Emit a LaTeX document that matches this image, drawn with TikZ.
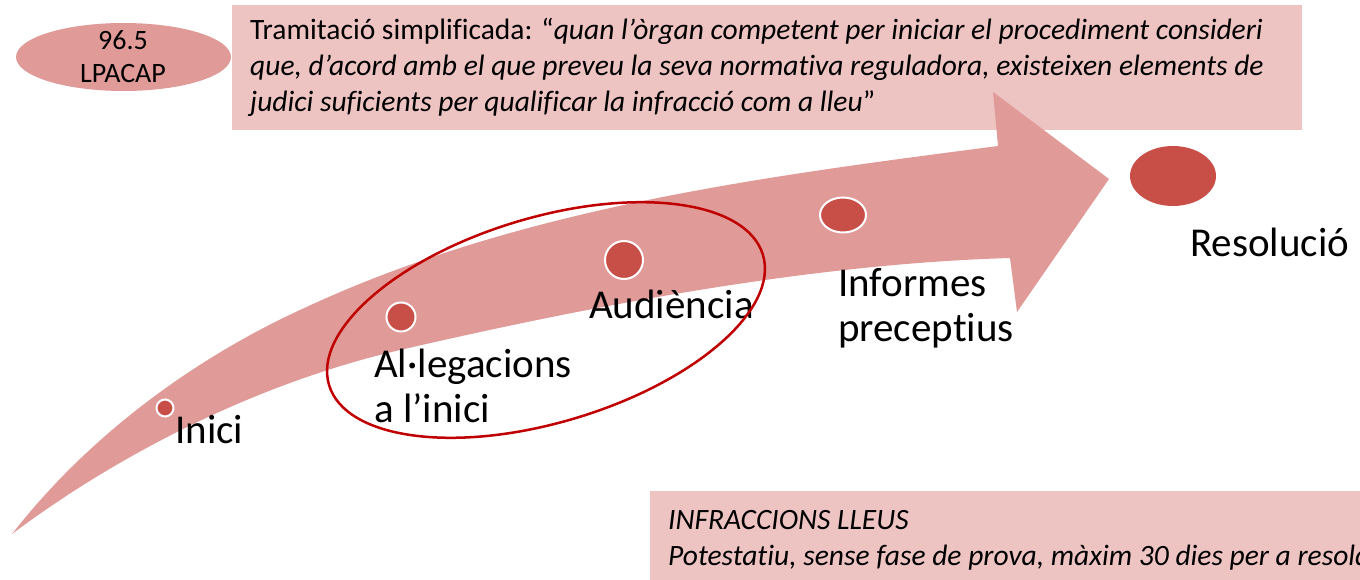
\documentclass[tikz,border=0pt]{standalone}
\usepackage{fontspec}
\setmainfont{Carlito}[Ligatures=NoCommon]
\usetikzlibrary{shapes.geometric, positioning}
\definecolor{swoosh}{RGB}{224,154,152}
\definecolor{notebg}{RGB}{238,196,195}
\definecolor{stepdot}{RGB}{200,79,72}
\definecolor{ring}{RGB}{192,0,0}

\begin{document}
\begin{tikzpicture}[x=1pt, y=-1pt,
milestone/.style={ellipse, fill=stepdot, draw=white, line width=2pt, inner sep=0pt},
stage/.style={anchor=base west, inner sep=0pt, align=left, font=\fontsize{41}{45}\selectfont}]
\tikzstyle{notetext}=[anchor=base west, inner sep=0pt, align=left, font=\fontsize{29.5}{36}\selectfont]
\useasboundingbox (0,0) rectangle (1360,580);
\clip (0,0) rectangle (1360,580);

%article
\node[ellipse, fill=swoosh, minimum width=215, minimum height=68, inner sep=0pt] (article) at (123.5,57) {};
\node[anchor=base, inner sep=0pt, font=\fontsize{28}{33}\selectfont] (num) at (123,50) {96.5};
\node[anchor=base, inner sep=0pt, font=\fontsize{28}{33}\selectfont] (llei) at (123,83) {LPACAP};

%notes
\fill[notebg] (232,5) rectangle (1302,130);
\fill[notebg] (650,491) rectangle (1360,580);
% base anchor sits on the last line
\node[notetext] (tramit) at (250,112) {Tramitació simplificada: “\textit{quan l’òrgan competent per iniciar el procediment consideri}\\
\textit{que, d’acord amb el que preveu la seva normativa reguladora, existeixen elements de}\\
\textit{judici suficients per qualificar la infracció com a lleu}”};
\node[notetext] (lleus) at (668,565) {\textit{INFRACCIONS LLEUS}\\
\textit{Potestatiu, sense fase de prova, màxim 30 dies per a resoldre}};

%arrow
\fill[swoosh] (12,534) .. controls (98,424) and (209,352) .. (300,310)
  .. controls (517,208) and (760,177) .. (998,146)
  -- (993,92) -- (1109,179) -- (1017,312) -- (1010,258)
  .. controls (810,264) and (595,305) .. (400,350)
  .. controls (254,384) and (116,456) .. (12,534) -- cycle;

%steps
\node[milestone, minimum width=17, minimum height=17] (inici) at (165,408) {};
\node[milestone, minimum width=29, minimum height=29] (alleg) at (401,317) {};
\node[milestone, minimum width=38, minimum height=38] (audien) at (624,260) {};
\node[milestone, minimum width=46, minimum height=35] (inform) at (843,215) {};
\node[milestone, draw=none, minimum width=86, minimum height=60] (resol) at (1173,176) {};

\node[stage] (l-inici) at (175,443) {Inici};
\node[stage] (l-alleg) at (374,422) {Al·legacions\\a l’inici};
\node[stage] (l-audien) at (589,318) {Audiència};
\node[stage] (l-inform) at (838,341) {Informes\\preceptius};
\node[stage] (l-resol) at (1190,256) {Resolució};

\node[ellipse, draw=ring, line width=2.5pt, minimum width=453, minimum height=205, rotate=16.7] (grup) at (546,320) {};

\end{tikzpicture}
\end{document}
